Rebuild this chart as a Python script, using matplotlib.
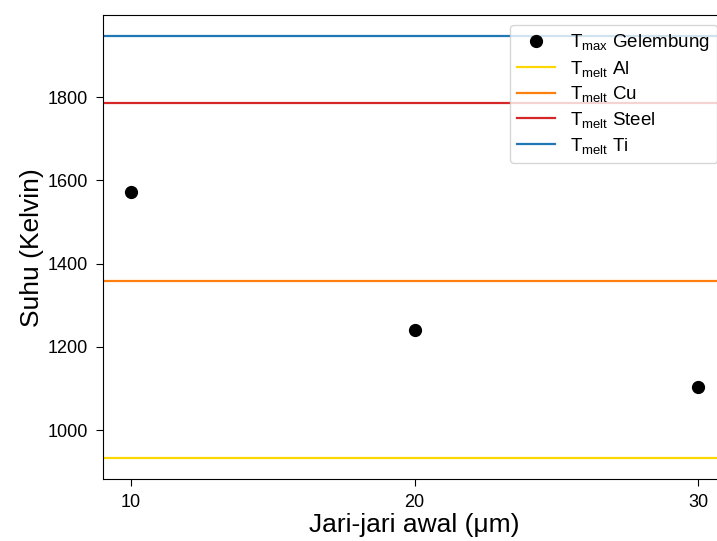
import matplotlib
matplotlib.use("Agg")
import matplotlib.pyplot as plt

plt.rcParams['font.family'] = ['Liberation Sans', 'DejaVu Sans']
plt.rcParams['mathtext.default'] = 'regular'

# initial radius (um) and peak bubble temperature (K)
radius = [10, 20, 30]
t_max = [1573, 1240, 1104]

# melting points (K)
melt_names = ['Al', 'Cu', 'Steel', 'Ti']
melt_temps = [933, 1358, 1785, 1946]
melt_colors = ['#FFD700', '#FF7F0E', '#D62728', '#1F77B4']

fig = plt.figure(figsize=(7.17, 5.41), dpi=100)
ax = fig.add_axes([0.1432, 0.1146, 0.8703, 0.8571])

ax.plot(radius, t_max, 'o', color='black', markersize=8.5, linestyle='none',
        label=r'$T_{max}$ Gelembung')
for name, temp, col in zip(melt_names, melt_temps, melt_colors):
    ax.axhline(temp, color=col, linewidth=1.6, label=r'$T_{melt}$ ' + name)

ax.set_xticks(radius)
ax.set_xlabel('Jari-jari awal (μm)', fontsize=19, labelpad=1.5)
ax.set_ylabel('Suhu (Kelvin)', fontsize=19, labelpad=3)
ax.tick_params(labelsize=13, pad=5.5, length=5)

ax.legend(loc='upper right', fontsize=13.5, labelspacing=0.3)

fig.savefig('out.png', dpi=100)
